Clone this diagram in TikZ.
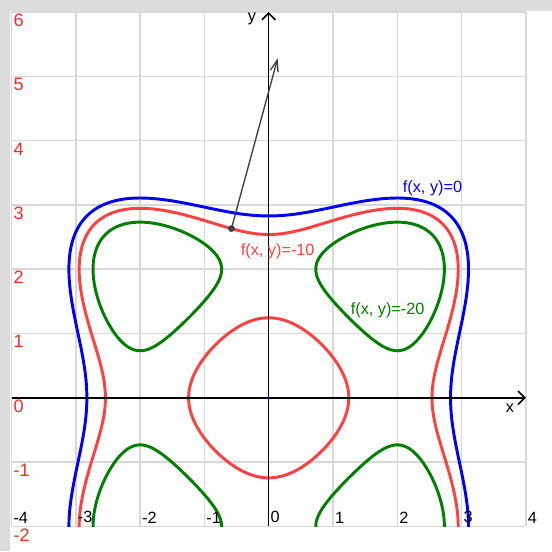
\documentclass[tikz,border=0pt]{standalone}
\usepackage{fontspec}
\setmainfont{Liberation Sans}
\usepackage{tikz}
\usetikzlibrary{
  arrows.meta,%
  calc%
}
\definecolor{panelgray}{RGB}{220,220,220}
\definecolor{gridgray}{RGB}{216,216,216}
\definecolor{levelblue}{RGB}{0,0,255}
\definecolor{levelred}{RGB}{255,64,64}
\definecolor{levelgreen}{RGB}{0,128,0}
\definecolor{ticklabred}{RGB}{255,40,40}
\definecolor{vecgray}{RGB}{64,64,64}
\tikzset{font=\fontsize{7.2}{8.5}\selectfont}
\tikzset{
  gridline/.style={gridgray, line width=0.7pt},
  axisline/.style={black, line width=0.7pt, -{Straight Barb[length=3pt,width=6pt]}},
  levelline/.style={line width=1.3pt, smooth},
  xticklab/.style={anchor=south west, inner xsep=0.7pt, inner ysep=1.3pt},
  yticklab/.style={anchor=north west, ticklabred, inner sep=0.7pt,
    font=\fontsize{8}{9}\selectfont},
  gradvec/.style={vecgray, line width=0.6pt, -{Straight Barb[length=5pt,width=3.5pt]}},
}

\begin{document}
\begin{tikzpicture}[x=1cm, y=1cm,
    declare function={
      quartA(\t)=1-0.5*sin(2*\t)*sin(2*\t);
      rzero(\t)=sqrt(8/quartA(\t));
      rout(\t)=sqrt((8+sqrt(64-40*quartA(\t)))/(2*quartA(\t)));
      rin(\t)=sqrt((8-sqrt(64-40*quartA(\t)))/(2*quartA(\t)));
    }]
  % background and plot area
  \fill[panelgray] (-4.179,-2.383) rectangle (4.406,6.187);
  \fill[white] (-4.016,-2.383) rectangle (4.406,6.016);
  \useasboundingbox (-4.179,-2.383) rectangle (4.406,6.187);
  % grid
  \foreach \x in {-4,...,4}
    \draw[gridline] (\x,-2) -- (\x,6);
  \foreach \y in {-2,...,6}
    \draw[gridline] (-4,\y) -- (4,\y);
  % level sets of f(x,y) = x^4-8x^2+y^4-8y^2
  \begin{scope}
    \clip (-4,-2) rectangle (4,6);
    \draw[levelline, levelblue] plot[domain=0:360, samples=241, variable=\t]
      ({rzero(\t)*cos(\t)}, {rzero(\t)*sin(\t)});
    \draw[levelline, levelred] plot[domain=0:360, samples=241, variable=\t]
      ({rout(\t)*cos(\t)}, {rout(\t)*sin(\t)});
    \draw[levelline, levelred] plot[domain=0:360, samples=181, variable=\t]
      ({rin(\t)*cos(\t)}, {rin(\t)*sin(\t)});
    \foreach \sx in {1,-1}
      \foreach \sy in {1,-1}
        \draw[levelline, levelgreen] plot[domain=0:360, samples=181, variable=\t]
          ({\sx*sqrt(4+3.4641*cos(\t))}, {\sy*sqrt(4+3.4641*sin(\t))});
  \end{scope}
  % axes
  \coordinate (xstart) at (-4,0);
  \coordinate (xend) at (4,0);
  \coordinate (ystart) at (0,-2);
  \coordinate (yend) at (0,6);
  \draw[axisline] (xstart) -- (xend);
  \draw[axisline] (ystart) -- (yend);
  \node (xlab) at (3.75,-0.16) {x};
  \node (ylab) at (-0.26,5.89) {y};
  \fill[levelblue] (0,0) circle (0.5pt);
  % tick labels
  \foreach \x in {-4,...,4}
    \node[xticklab] (xt\x) at (\x,-2) {\x};
  \foreach \y in {-2,...,6}
    \node[yticklab] (yt\y) at (-4,\y) {\y};
  % level labels
  \node[anchor=base west, inner sep=0pt, levelblue] (lab0) at (2.08,3.19) {f(x, y)=0};
  \node[anchor=base west, inner sep=0pt, levelred] (lab10) at (-0.44,2.21) {f(x, y)=-10};
  \node[anchor=base west, inner sep=0pt, levelgreen] (lab20) at (1.27,1.29) {f(x, y)=-20};
  % gradient vector
  \coordinate (P) at (-0.58,2.632);
  \coordinate (gradtip) at (0.14,5.28);
  \draw[gradvec] (P) -- (gradtip);
  \fill[vecgray] (P) circle (1.5pt);
\end{tikzpicture}
\end{document}
